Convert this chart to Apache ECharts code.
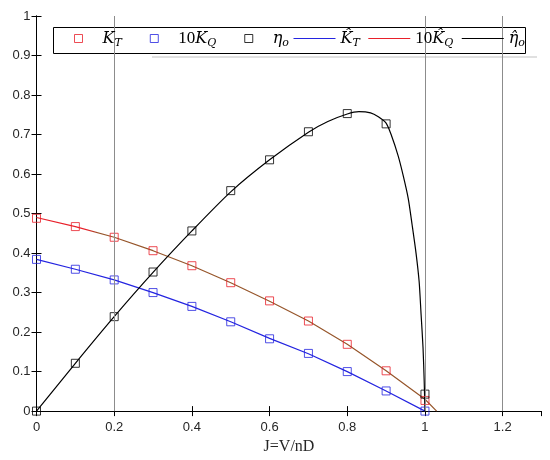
<!DOCTYPE html>
<html><head><meta charset="utf-8">
<script src="https://cdn.jsdelivr.net/npm/echarts@6/dist/echarts.min.js"></script>
<style>html,body{margin:0;padding:0;background:#fff}#c{width:550px;height:460px}</style>
</head><body><div id="c"></div>
<script>
// measured points
const J = [0, 0.1, 0.2, 0.3, 0.4, 0.5, 0.6, 0.7, 0.8, 0.9, 1.0];
const KT = [0.488, 0.467, 0.440, 0.406, 0.368, 0.325, 0.279, 0.228, 0.169, 0.102, 0.027];
const KQ10 = [0.384, 0.359, 0.332, 0.300, 0.265, 0.226, 0.183, 0.146, 0.100, 0.051, 0.0];
const ETA = [0, 0.121, 0.239, 0.352, 0.456, 0.558, 0.636, 0.707, 0.753, 0.727, 0.043];
// fitted curves
const KT_FIT_J = [0, 0.1, 0.2, 0.3, 0.4, 0.5, 0.6, 0.7, 0.8, 0.9, 1.0, 1.03];
const KT_FIT = [0.490, 0.467, 0.440, 0.406, 0.368, 0.325, 0.278, 0.228, 0.169, 0.102, 0.030, 0];
const KQ_FIT_J = [0, 0.1, 0.2, 0.3, 0.4, 0.5, 0.6, 0.7, 0.8, 0.9, 1.0];
const KQ_FIT = [0.384, 0.359, 0.332, 0.300, 0.265, 0.226, 0.184, 0.145, 0.100, 0.051, 0];
const ETA_FIT_J = [0, 0.1, 0.2, 0.3, 0.4, 0.5, 0.6, 0.7, 0.75, 0.8, 0.83, 0.86, 0.88, 0.9, 0.914, 0.931, 0.944, 0.957, 0.967, 0.977, 0.985, 0.99, 0.995, 0.998, 1.0];
const ETA_FIT = [0, 0.121, 0.239, 0.351, 0.456, 0.555, 0.636, 0.706, 0.733, 0.752, 0.758, 0.755, 0.745, 0.729, 0.697, 0.646, 0.596, 0.538, 0.471, 0.40, 0.328, 0.245, 0.161, 0.077, 0];
const GRID_J = [0.2, 1.0, 1.2];

const pairs = (xs, ys) => xs.map((x, i) => [x, ys[i]]);
const RED = '#e8202a', BLUE = '#2424e0', BROWN = '#96552a', BLACK = '#000';
const SQ = 'path://M0 0H10V10H0Z';

const labels = {
  'KT': '{g|}{i|K}{s|T}',
  '10KQ': '{g|}{n|10}{i|K}{s|Q}',
  'eta': '{g|}{i|η}{s|o}',
  'KThat': '{i|K\u0302}{s|T}',
  '10KQhat': '{n|10}{i|K\u0302}{s|Q}',
  'etahat': '{i|η\u0302}{s|o}'
};
const rich = {
  g: {width: 15},
  i: {fontFamily: 'DejaVu Serif, Liberation Serif, serif', fontStyle: 'italic', fontSize: 16, lineHeight: 20, verticalAlign: 'middle'},
  n: {fontFamily: 'Liberation Serif, serif', fontSize: 17, lineHeight: 20, verticalAlign: 'middle'},
  s: {fontFamily: 'DejaVu Serif, Liberation Serif, serif', fontStyle: 'italic', fontSize: 11, lineHeight: 20, verticalAlign: 'bottom'}
};

const chart = echarts.init(document.getElementById('c'), null, {renderer: 'canvas'});
const axisFont = {fontFamily: 'Liberation Sans, Arial, sans-serif', fontSize: 13, color: '#262626'};
const scatter = (name, data, color) => ({
  name, type: 'scatter', data, symbol: 'rect', symbolSize: 8,
  itemStyle: {color: 'transparent', borderColor: color, borderWidth: 1},
  z: 3
});
const ktGradient = {type: 'linear', x: 0, y: 0, x2: 1, y2: 0, colorStops: [
  {offset: 0, color: RED}, {offset: 0.13, color: RED}, {offset: 0.16, color: BROWN}, {offset: 1, color: BROWN}]};
const noSym = {color: 'transparent', borderColor: 'transparent', borderWidth: 0};

chart.setOption({
  animation: false,
  backgroundColor: '#fff',
  grid: {left: 36.5, right: 8.5, top: 16, bottom: 46},
  graphic: [
    {type: 'line', z: 1, shape: {x1: 152, y1: 57, x2: 537, y2: 57}, style: {stroke: '#d6d6d6', lineWidth: 1.5}},
    {type: 'rect', z: 5, shape: {x: 53.5, y: 27.5, width: 472, height: 26}, style: {fill: '#fff', stroke: '#000', lineWidth: 1}}
  ],
  legend: [{
    left: 74, top: 30, orient: 'horizontal', z: 10,
    padding: 0, itemGap: 28, itemWidth: 8, itemHeight: 8,
    textStyle: {color: '#000', rich},
    formatter: n => labels[n],
    data: [
      {name: 'KT', icon: SQ, itemStyle: {color: 'transparent', borderColor: RED, borderWidth: 1}},
      {name: '10KQ', icon: SQ, itemStyle: {color: 'transparent', borderColor: BLUE, borderWidth: 1}},
      {name: 'eta', icon: SQ, itemStyle: {color: 'transparent', borderColor: BLACK, borderWidth: 1}}
    ]
  }, {
    left: 293, top: 30, orient: 'horizontal', z: 10,
    padding: 0, itemGap: 8, itemWidth: 42, itemHeight: 8,
    textStyle: {color: '#000', rich},
    formatter: n => labels[n],
    data: [
      {name: 'KThat', lineStyle: {color: BLUE, width: 1}, itemStyle: noSym},
      {name: '10KQhat', lineStyle: {color: RED, width: 1}, itemStyle: noSym},
      {name: 'etahat', lineStyle: {color: BLACK, width: 1}, itemStyle: noSym}
    ]
  }],
  xAxis: [{
    type: 'value', min: 0, max: 1.3, interval: 0.2,
    name: 'J=V/nD', nameLocation: 'middle', nameGap: 24,
    nameTextStyle: {fontFamily: 'Liberation Serif, Times New Roman, serif', fontSize: 16, color: '#262626'},
    axisLine: {lineStyle: {color: '#000', width: 1}},
    axisTick: {inside: true, length: 5, lineStyle: {color: '#000'}},
    axisLabel: Object.assign({margin: 10, showMaxLabel: false, formatter: v => v > 1.25 ? '' : String(+v.toFixed(1))}, axisFont),
    splitLine: {show: false}
  }, {
    type: 'value', position: 'top', min: 0, max: 1.3, interval: 0.2,
    axisLine: {lineStyle: {color: '#000', width: 1}},
    axisTick: {inside: true, length: 5, lineStyle: {color: '#000'}},
    axisLabel: {show: false}, splitLine: {show: false}
  }],
  yAxis: [{
    type: 'value', min: 0, max: 1, interval: 0.1,
    axisLine: {show: true, lineStyle: {color: '#000', width: 1}},
    axisTick: {show: true, inside: true, length: 5, lineStyle: {color: '#000'}},
    axisLabel: Object.assign({margin: 6, formatter: v => String(+v.toFixed(1))}, axisFont),
    splitLine: {show: false}
  }, {
    type: 'value', position: 'right', min: 0, max: 1, interval: 0.1,
    axisLine: {show: true, lineStyle: {color: '#000', width: 1}},
    axisTick: {show: true, inside: true, length: 5, lineStyle: {color: '#000'}},
    axisLabel: {show: false}, splitLine: {show: false}
  }],
  series: [
    scatter('KT', pairs(J, KT), RED),
    scatter('10KQ', pairs(J, KQ10), BLUE),
    scatter('eta', pairs(J, ETA), BLACK),
    {name: 'KThat', type: 'line', data: pairs(KT_FIT_J, KT_FIT), showSymbol: false, symbol: 'none',
     lineStyle: {width: 1.2, color: ktGradient}, itemStyle: {color: BROWN}, z: 2},
    {name: '10KQhat', type: 'line', data: pairs(KQ_FIT_J, KQ_FIT), showSymbol: false, symbol: 'none',
     lineStyle: {width: 1.2, color: BLUE}, itemStyle: {color: BLUE}, z: 2,
     markLine: {silent: true, symbol: 'none', label: {show: false},
       lineStyle: {color: '#8c8c8c', width: 1, type: 'solid'},
       data: GRID_J.map(v => ({xAxis: v}))}},
    {name: 'etahat', type: 'line', data: pairs(ETA_FIT_J, ETA_FIT), showSymbol: false, symbol: 'none',
     smooth: 0.25,
     lineStyle: {width: 1.2, color: BLACK}, itemStyle: {color: BLACK}, z: 2}
  ]
});
</script></body></html>
